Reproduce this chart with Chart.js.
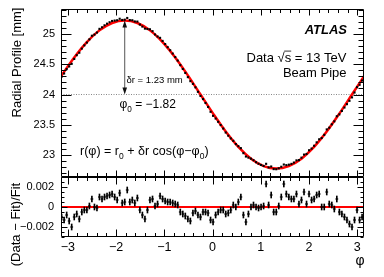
<!DOCTYPE html>
<html>
<head>
<meta charset="utf-8">
<script src="https://cdn.jsdelivr.net/npm/chart.js@4.4.0/dist/chart.umd.min.js"></script>
<style>
  html, body { margin: 0; padding: 0; background: #fff; }
  #wrap { position: relative; width: 384px; height: 277px; overflow: hidden; }
  canvas { position: absolute; left: 0; }
  #top { top: 0; }
  #bottom { top: 168px; }
</style>
</head>
<body>
<div id="wrap">
  <canvas id="top" width="384" height="178"></canvas>
  <canvas id="bottom" width="384" height="109"></canvas>
</div>
<script>
// bin centres in phi
const phi = [
  -3.129, -3.077, -3.024, -2.972, -2.920, -2.867, -2.815, -2.762, -2.710, -2.658,
  -2.605, -2.553, -2.501, -2.448, -2.396, -2.344, -2.291, -2.239, -2.187, -2.134,
  -2.082, -2.029, -1.977, -1.925, -1.872, -1.820, -1.768, -1.715, -1.663, -1.611,
  -1.558, -1.506, -1.454, -1.401, -1.349, -1.297, -1.244, -1.192, -1.139, -1.087,
  -1.035, -0.982, -0.930, -0.878, -0.825, -0.773, -0.721, -0.668, -0.616, -0.564,
  -0.511, -0.459, -0.406, -0.354, -0.302, -0.249, -0.197, -0.145, -0.092, -0.040,
   0.012,  0.065,  0.117,  0.169,  0.222,  0.274,  0.327,  0.379,  0.431,  0.484,
   0.536,  0.588,  0.641,  0.693,  0.745,  0.798,  0.850,  0.903,  0.955,  1.007,
   1.060,  1.112,  1.164,  1.217,  1.269,  1.322,  1.374,  1.426,  1.479,  1.531,
   1.583,  1.636,  1.688,  1.741,  1.793,  1.845,  1.898,  1.950,  2.002,  2.055,
   2.107,  2.160,  2.212,  2.264,  2.317,  2.369,  2.421,  2.474,  2.526,  2.578,
   2.631,  2.683,  2.736,  2.788,  2.840,  2.893,  2.945,  2.997,  3.050,  3.102
];

// measured radial profile [mm]
const radius = [
  24.294, 24.349, 24.422, 24.466, 24.510, 24.591, 24.653, 24.694, 24.762, 24.816,
  24.863, 24.916, 24.976, 24.995, 25.029, 25.090, 25.116, 25.149, 25.176, 25.200,
  25.221, 25.228, 25.233, 25.258, 25.238, 25.243, 25.271, 25.236, 25.233, 25.213,
  25.211, 25.162, 25.128, 25.094, 25.088, 25.083, 25.052, 24.997, 24.963, 24.941,
  24.890, 24.838, 24.786, 24.735, 24.680, 24.622, 24.563, 24.488, 24.424, 24.358,
  24.289, 24.222, 24.177, 24.119, 24.045, 23.976, 23.924, 23.859, 23.794, 23.713,
  23.646, 23.601, 23.547, 23.493, 23.435, 23.369, 23.316, 23.270, 23.231, 23.177,
  23.142, 23.109, 23.026, 22.970, 22.952, 22.935, 22.909, 22.876, 22.850, 22.830,
  22.814, 22.849, 22.790, 22.804, 22.761, 22.759, 22.774, 22.800, 22.837, 22.827,
  22.835, 22.848, 22.870, 22.906, 22.911, 22.951, 23.002, 23.012, 23.074, 23.102,
  23.149, 23.205, 23.256, 23.277, 23.330, 23.420, 23.449, 23.505, 23.554, 23.639,
  23.670, 23.727, 23.784, 23.840, 23.895, 23.952, 24.033, 24.122, 24.161, 24.232
];

// (Data - Fit)/Fit
const ratio = [
  -0.0010, -0.0013, -0.0008, -0.0014, -0.0020, -0.0010, -0.0007, -0.0012, -0.0005, -0.0003,
  -0.0003,  0.0001,  0.0008,  0.0000, -0.0001,  0.0010,  0.0008,  0.0010,  0.0011,  0.0012,
   0.0013,  0.0010,  0.0007,  0.0014,  0.0004,  0.0005,  0.0017,  0.0005,  0.0007,  0.0004,
   0.0009, -0.0003, -0.0008, -0.0012, -0.0003,  0.0007,  0.0008,  0.0001,  0.0003,  0.0011,
   0.0008,  0.0006,  0.0005,  0.0005,  0.0004,  0.0003,  0.0002, -0.0005, -0.0007, -0.0009,
  -0.0012, -0.0014, -0.0006, -0.0004, -0.0008, -0.0010, -0.0005, -0.0005, -0.0006, -0.0013,
  -0.0015, -0.0008, -0.0005, -0.0003, -0.0003, -0.0007, -0.0006, -0.0003,  0.0002,  0.0000,
   0.0005,  0.0010, -0.0008, -0.0015, -0.0007,  0.0000,  0.0002,  0.0000, -0.0001,  0.0000,
   0.0001,  0.0023,  0.0002,  0.0012, -0.0005, -0.0005,  0.0001,  0.0010,  0.0023,  0.0013,
   0.0010,  0.0008,  0.0008,  0.0013,  0.0003,  0.0007,  0.0015,  0.0003,  0.0013,  0.0007,
   0.0008,  0.0012,  0.0013,  0.0000,  0.0000,  0.0015,  0.0003,  0.0002, -0.0002,  0.0008,
  -0.0005, -0.0007, -0.0010, -0.0013, -0.0017, -0.0020, -0.0013, -0.0003, -0.0013, -0.0010
];
const ratioErr = 0.0003;

// red fit curve
const fitPhi = [-3.142, -2.867, -2.605, -2.344, -2.082, -1.820, -1.558, -1.296, -1.035, -0.773,
  -0.511, -0.249, 0.013, 0.274, 0.536, 0.798, 1.060, 1.322, 1.583, 1.845, 2.107, 2.369, 2.630, 2.892, 3.142];
const fitR = [24.304, 24.615, 24.870, 25.065, 25.188, 25.230, 25.188, 25.065, 24.870, 24.615,
  24.318, 24.000, 23.682, 23.385, 23.130, 22.935, 22.812, 22.770, 22.812, 22.935, 23.130, 23.385, 23.682, 24.000, 24.303];

// fit parameters
const r0 = 24.0, dr = 1.23, phi0 = -1.82;

// tick labels
const rTicks = [23, 23.5, 24, 24.5, 25];
const ratioTicks = [-0.002, 0, 0.002];
const phiTicks = [-3, -2, -1, 0, 1, 2, 3];

const FONT = '"Liberation Sans", Arial, Helvetica, sans-serif';
const minus = s => String(s).replace('-', '\u2212');

// draw text with subscripts / overline pieces
function richText(ctx, x, y, parts, size, align) {
  const sub = size * 0.68;
  let w = 0;
  parts.forEach(p => { ctx.font = (p.sub ? sub : size) + 'px ' + FONT; w += ctx.measureText(p.t).width; });
  let cx = align === 'right' ? x - w : x;
  ctx.textAlign = 'left';
  ctx.textBaseline = 'alphabetic';
  parts.forEach(p => {
    ctx.font = (p.sub ? sub : size) + 'px ' + FONT;
    const tw = ctx.measureText(p.t).width;
    ctx.fillText(p.t, cx, y + (p.sub ? size * 0.3 : 0));
    if (p.over) {
      ctx.beginPath();
      ctx.lineWidth = 0.8;
      ctx.moveTo(cx - 0.5, y - size * 0.8);
      ctx.lineTo(cx + tw, y - size * 0.8);
      ctx.stroke();
    }
    cx += tw;
  });
}

// no label overflow padding, the frame is fixed
function noPad(s) {
  s.paddingTop = 0; s.paddingBottom = 0; s.paddingLeft = 0; s.paddingRight = 0;
}

// ROOT style frame with ticks inside on all four sides
const framePlugin = {
  id: 'frame',
  afterDatasetsDraw(chart, args, o) {
    const {ctx, chartArea: a} = chart;
    const xs = chart.scales.x, ys = chart.scales.y;
    const L = Math.round(a.left) + 0.5, R = Math.round(a.right) - 0.5;
    const T = Math.round(a.top) + 0.5, B = Math.round(a.bottom) - 0.5;
    ctx.save();
    ctx.strokeStyle = '#000';
    ctx.lineWidth = 1;
    ctx.beginPath();
    for (let i = Math.ceil(xs.min / o.xStep - 1e-9); i * o.xStep <= xs.max + 1e-9; i++) {
      const px = Math.round(xs.getPixelForValue(i * o.xStep)) + 0.5;
      const len = i % o.xEvery === 0 ? o.xMajor : o.xMinor;
      ctx.moveTo(px, B); ctx.lineTo(px, B - len);
      ctx.moveTo(px, T); ctx.lineTo(px, T + len);
    }
    for (let i = Math.ceil(ys.min / o.yStep - 1e-9); i * o.yStep <= ys.max + 1e-12; i++) {
      const py = Math.round(ys.getPixelForValue(i * o.yStep)) + 0.5;
      const len = i % o.yEvery === 0 ? o.yMajor : o.yMinor;
      ctx.moveTo(L, py); ctx.lineTo(L + len, py);
      ctx.moveTo(R, py); ctx.lineTo(R - len, py);
    }
    ctx.rect(L, T, R - L, B - T);
    ctx.stroke();
    ctx.restore();
  }
};

const topText = {
  id: 'topText',
  afterDraw(chart) {
    const {ctx} = chart;
    const xs = chart.scales.x, ys = chart.scales.y;
    ctx.save();
    ctx.fillStyle = '#000';
    ctx.strokeStyle = '#000';

    // y title
    ctx.save();
    ctx.translate(17, 62.5);
    ctx.rotate(-Math.PI / 2);
    ctx.font = '13px ' + FONT;
    ctx.textAlign = 'center';
    ctx.textBaseline = 'middle';
    ctx.fillText('Radial Profile [mm]', 0, 0);
    ctx.restore();

    // arrow for the amplitude
    const ax = xs.getPixelForValue(phi0);
    const yTop = ys.getPixelForValue(r0 + dr);
    const yBot = ys.getPixelForValue(r0);
    ctx.beginPath();
    ctx.strokeStyle = '#555';
    ctx.lineWidth = 1;
    ctx.moveTo(ax, yTop + 4);
    ctx.lineTo(ax, yBot - 4);
    ctx.stroke();
    ctx.fillStyle = '#111';
    ctx.beginPath();
    ctx.moveTo(ax, yTop); ctx.lineTo(ax - 2.3, yTop + 7); ctx.lineTo(ax + 2.3, yTop + 7); ctx.closePath();
    ctx.moveTo(ax, yBot); ctx.lineTo(ax - 2.3, yBot - 7); ctx.lineTo(ax + 2.3, yBot - 7); ctx.closePath();
    ctx.fill();

    ctx.fillStyle = '#000';
    ctx.strokeStyle = '#000';
    ctx.font = 'italic bold 13px ' + FONT;
    ctx.textAlign = 'right';
    ctx.textBaseline = 'alphabetic';
    ctx.fillText('ATLAS', 347, 33.5);

    richText(ctx, 346.5, 61.5, [{t: 'Data \u221A'}, {t: 's', over: true}, {t: ' = 13 TeV'}], 13, 'right');
    richText(ctx, 346.5, 77, [{t: 'Beam Pipe'}], 13, 'right');
    richText(ctx, 126.5, 83, [{t: '\u03B4r = 1.23 mm'}], 9.5, 'left');
    richText(ctx, 119.5, 108, [{t: '\u03C6'}, {t: '0', sub: true}, {t: ' = \u22121.82'}], 12, 'left');
    richText(ctx, 80, 155, [{t: 'r(\u03C6) = r'}, {t: '0', sub: true}, {t: ' + \u03B4r cos(\u03C6\u2212\u03C6'}, {t: '0', sub: true}, {t: ')'}], 12.5, 'left');
    ctx.restore();
  }
};

const bottomText = {
  id: 'bottomText',
  afterDraw(chart) {
    const {ctx} = chart;
    ctx.save();
    ctx.fillStyle = '#000';
    ctx.translate(16.5, 224.5 - 168);
    ctx.rotate(-Math.PI / 2);
    ctx.font = '13px ' + FONT;
    ctx.textAlign = 'center';
    ctx.textBaseline = 'middle';
    ctx.fillText('(Data \u2212 Fit)/Fit', 0, 0);
    ctx.restore();
    ctx.save();
    ctx.fillStyle = '#000';
    ctx.font = '14px ' + FONT;
    ctx.textAlign = 'center';
    ctx.textBaseline = 'middle';
    ctx.fillText('\u03C6', 360, 261 - 168);
    ctx.restore();
  }
};

const pts = phi.map((p, i) => ({x: p, y: radius[i]}));
const fitPts = fitPhi.map((p, i) => ({x: p, y: fitR[i]}));
const resPts = phi.map((p, i) => ({x: p, y: ratio[i]}));
const resBars = phi.map((p, i) => ({x: p, y: [ratio[i] - ratioErr, ratio[i] + ratioErr]}));

new Chart(document.getElementById('top'), {
  type: 'scatter',
  data: {
    datasets: [
      {data: pts, pointStyle: 'rect', pointRadius: 1.5, backgroundColor: '#000', borderColor: '#000', borderWidth: 0},
      {type: 'line', data: fitPts, showLine: true, borderColor: '#ff0000', borderWidth: 2.5, pointRadius: 0,
       cubicInterpolationMode: 'monotone', fill: false},
      {type: 'line', data: [{x: -Math.PI, y: r0}, {x: Math.PI, y: r0}], showLine: true, borderColor: '#888',
       borderWidth: 1, borderDash: [1, 1.5], pointRadius: 0, fill: false}
    ]
  },
  options: {
    responsive: false,
    animation: false,
    layout: {padding: {top: 9, bottom: 1, left: 0, right: 20}, autoPadding: false},
    plugins: {
      legend: {display: false},
      tooltip: {enabled: false},
      frame: {xStep: 0.2, xEvery: 5, xMajor: 6, xMinor: 3.5, yStep: 0.1, yEvery: 5, yMajor: 10, yMinor: 5}
    },
    scales: {
      x: {type: 'linear', min: -Math.PI, max: Math.PI, display: false, offset: false},
      y: {
        type: 'linear', min: 22.63, max: 25.42,
        grid: {display: false, drawTicks: false},
        border: {display: false},
        afterBuildTicks: s => { s.ticks = rTicks.map(v => ({value: v})); },
        afterFit: s => { s.width = 61; noPad(s); },
        ticks: {color: '#000', padding: 6, font: {family: FONT, size: 11}, callback: v => String(v)}
      }
    }
  },
  plugins: [framePlugin, topText]
});

new Chart(document.getElementById('bottom'), {
  type: 'scatter',
  data: {
    datasets: [
      {data: resPts, pointStyle: 'line', pointRadius: 1.4, borderColor: '#000', borderWidth: 1.2},
      {type: 'bar', data: resBars, backgroundColor: '#000', barThickness: 1, grouped: false, borderWidth: 0},
      {type: 'line', data: [{x: -Math.PI, y: 0}, {x: Math.PI, y: 0}], showLine: true, borderColor: '#ff0000',
       borderWidth: 2, pointRadius: 0, fill: false}
    ]
  },
  options: {
    responsive: false,
    animation: false,
    layout: {padding: {top: 9, bottom: 0, left: 0, right: 20}, autoPadding: false},
    plugins: {
      legend: {display: false},
      tooltip: {enabled: false},
      frame: {xStep: 0.2, xEvery: 5, xMajor: 7, xMinor: 3.5, yStep: 0.0005, yEvery: 4, yMajor: 6, yMinor: 3}
    },
    scales: {
      x: {
        type: 'linear', min: -Math.PI, max: Math.PI, offset: false,
        grid: {display: false, drawTicks: false, offset: false},
        border: {display: false},
        afterBuildTicks: s => { s.ticks = phiTicks.map(v => ({value: v})); },
        afterFit: s => { s.height = 40; noPad(s); },
        ticks: {color: '#000', padding: 3, maxRotation: 0, autoSkip: false, font: {family: FONT, size: 12.5},
                callback: v => minus(v)}
      },
      y: {
        type: 'linear', min: -0.003, max: 0.003,
        grid: {display: false, drawTicks: false},
        border: {display: false},
        afterBuildTicks: s => { s.ticks = ratioTicks.map(v => ({value: v})); },
        afterFit: s => { s.width = 61; noPad(s); },
        ticks: {color: '#000', padding: 7, font: {family: FONT, size: 11},
                callback: v => Math.abs(v) < 1e-9 ? '0' : minus(v.toFixed(3))}
      }
    }
  },
  plugins: [framePlugin, bottomText]
});
</script>
</body>
</html>
